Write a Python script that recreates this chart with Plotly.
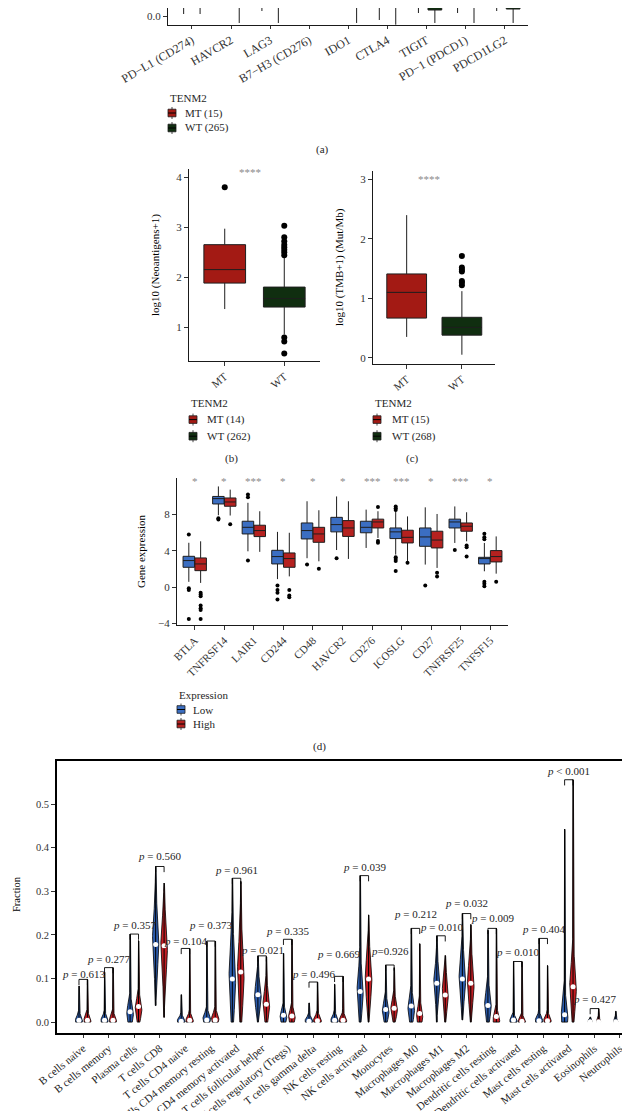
import numpy as np
import plotly.graph_objects as go

W, H = 630, 1111
FONT = "Liberation Serif"
TXT = "#262626"
TICK = "#333333"

# ---------------- (a) checkpoint expression, MT vs WT (top of panel is cropped) -------------
a_genes = ["PD−L1 (CD274)", "HAVCR2", "LAG3", "B7−H3 (CD276)", "IDO1", "CTLA4",
           "TIGIT", "PD−1 (PDCD1)", "PDCD1LG2"]
a_mt_lf = [0.067, 0.45, 0.167, 0.50, 0.42, -0.133, 0.10, 0.10, 0.167]
a_mt_q1 = [1.2, 1.6, 0.9, 2.4, 1.0, 0.8, 0.7, 0.8, 1.1]
a_mt_med = [2.0, 2.5, 1.6, 3.4, 1.8, 1.5, 1.3, 1.5, 1.9]
a_mt_q3 = [2.8, 3.3, 2.3, 4.2, 2.7, 2.2, 2.0, 2.2, 2.6]
a_mt_uf = [4.0, 4.6, 3.5, 5.4, 4.1, 3.4, 3.2, 3.4, 3.8]
a_wt_lf = [0.067, -0.233, -0.233, 0.50, -0.233, -0.29, -0.233, -0.233, -0.233]
a_wt_q1 = [0.8, 1.2, 0.6, 2.2, 0.5, 0.4, 0.20, 0.4, 0.233]
a_wt_med = [1.5, 2.1, 1.2, 3.1, 1.1, 0.9, 0.6, 1.0, 0.8]
a_wt_q3 = [2.3, 2.9, 1.9, 3.9, 1.9, 1.6, 1.2, 1.7, 1.5]
a_wt_uf = [3.6, 4.3, 3.2, 5.2, 3.4, 2.9, 2.4, 3.0, 2.8]

# ---------------- (b) neoantigens ----------------
bc_groups = ["MT", "WT"]
b_lf = [1.36, 0.85]
b_q1 = [1.88, 1.40]
b_med = [2.15, 1.57]
b_q3 = [2.65, 1.80]
b_uf = [2.97, 2.40]
b_out_mt = [3.80]
b_out_wt = [3.03, 2.80, 2.72, 2.65, 2.60, 2.55, 2.50, 2.44, 0.79, 0.71, 0.47]

# ---------------- (c) TMB ----------------
c_lf = [0.35, 0.05]
c_q1 = [0.667, 0.38]
c_med = [1.10, 0.51]
c_q3 = [1.41, 0.68]
c_uf = [2.40, 1.12]
c_out_mt = []
c_out_wt = [1.71, 1.52, 1.48, 1.45, 1.29, 1.26, 1.22]

# ---------------- (d) gene expression Low vs High ----------------
d_genes = ["BTLA", "TNFRSF14", "LAIR1", "CD244", "CD48", "HAVCR2", "CD276", "ICOSLG",
           "CD27", "TNFRSF25", "TNFSF15"]
d_stars = ["*", "*", "***", "*", "*", "*", "***", "***", "*", "***", "*"]
low_lf = [0.6, 7.93, 3.96, 0.9, 3.2, 4.1, 4.33, 3.6, 2.5, 4.88, 1.76]
low_q1 = [2.2, 9.17, 5.87, 2.57, 5.32, 6.1, 6.0, 5.36, 4.51, 6.53, 2.57]
low_med = [2.94, 9.76, 6.6, 3.38, 6.24, 6.9, 6.6, 6.1, 5.54, 7.19, 3.16]
low_q3 = [3.41, 10.0, 7.27, 4.07, 7.08, 7.7, 7.27, 6.53, 6.53, 7.5, 3.3]
low_uf = [4.9, 11.1, 9.3, 6.1, 9.47, 10.0, 8.55, 8.37, 8.8, 8.9, 4.88]
low_out = [[5.8, -0.1, -0.3, -3.5], [7.6, 7.45], [10.2, 9.9, 2.95], [0.2, -0.3, -0.6, -1.35],
           [2.5], [3.2], [], [8.9, 8.7, 8.5, 3.3, 3.1, 2.9, 1.8], [0.2], [4.1],
           [5.9, 5.5, 5.3, 0.6, 0.4, 0.1]]
high_lf = [0.48, 7.9, 3.9, 1.2, 2.86, 3.12, 5.43, 2.86, 2.13, 5.06, 1.5]
high_q1 = [1.83, 8.92, 5.58, 2.2, 4.95, 5.6, 6.53, 4.88, 4.33, 6.17, 2.79]
high_med = [2.57, 9.39, 6.24, 3.16, 5.87, 6.53, 7.19, 5.5, 5.2, 6.72, 3.38]
high_q3 = [3.23, 9.83, 6.83, 3.78, 6.6, 7.34, 7.5, 6.28, 6.17, 7.08, 4.04]
high_uf = [5.06, 10.75, 8.37, 6.0, 8.48, 9.47, 8.37, 7.8, 8.07, 8.26, 5.6]
high_out = [[-0.6, -0.8, -1.0, -2.0, -2.3, -2.5, -3.5], [6.95], [], [-0.3, -0.9, -1.1],
            [2.05], [], [8.85, 5.1, 4.9], [2.7], [1.6, 1.2], [4.6, 4.4, 3.4], [0.6]]

# ---------------- (e) immune cell fractions (violins) ----------------
cells = ["B cells naive", "B cells memory", "Plasma cells", "T cells CD8", "T cells CD4 naive",
         "T cells CD4 memory resting", "T cells CD4 memory activated",
         "T cells follicular helper", "T cells regulatory (Tregs)", "T cells gamma delta",
         "NK cells resting", "NK cells activated", "Monocytes", "Macrophages M0",
         "Macrophages M1", "Macrophages M2", "Dendritic cells resting",
         "Dendritic cells activated", "Mast cells resting", "Mast cells activated",
         "Eosinophils", "Neutrophils"]
blue_lo = [0, 0, 0, 0.038, 0, 0, 0, 0, 0, 0, 0, 0, 0, 0, 0, 0.005, 0, 0, 0, 0, 0, 0]
blue_hi = [0.083, 0.115, 0.202, 0.357, 0.063, 0.185, 0.330, 0.152, 0.158, 0.044, 0.087,
           0.336, 0.131, 0.215, 0.198, 0.249, 0.211, 0.139, 0.192, 0.443, 0.012, 0.025]
blue_peak = [0.004, 0.004, 0.02, 0.185, 0.003, 0.008, 0.10, 0.06, 0.012, 0.003, 0.004,
             0.07, 0.025, 0.03, 0.09, 0.10, 0.04, 0.003, 0.004, 0.015, 0.002, 0.002]
blue_spread = [0.01, 0.01, 0.022, 0.06, 0.008, 0.012, 0.07, 0.03, 0.015, 0.008, 0.01,
               0.045, 0.02, 0.025, 0.035, 0.045, 0.03, 0.008, 0.01, 0.03, 0.005, 0.005]
blue_dens = [0.14, 0.14, 0.13, 0.125, 0.155, 0.15, 0.13, 0.13, 0.13, 0.155, 0.145,
             0.12, 0.13, 0.13, 0.12, 0.13, 0.13, 0.145, 0.145, 0.13, 0.08, 0.08]
blue_med = [0.004, 0.004, 0.024, 0.178, 0.002, 0.005, 0.099, 0.063, 0.016, 0.002, 0.004,
            0.070, 0.029, 0.037, 0.089, 0.099, 0.038, 0.005, 0.003, 0.017, 0.001, 0.001]
red_lo = [0, 0, 0, 0.011, 0, 0, 0, 0, 0, 0, 0, 0, 0, 0, 0, 0, 0, 0, 0, 0, 0, 0]
red_hi = [0.098, 0.125, 0.187, 0.319, 0.169, 0.186, 0.323, 0.150, 0.190, 0.092, 0.105,
          0.246, 0.125, 0.180, 0.153, 0.224, 0.215, 0.139, 0.130, 0.556, 0.031, 0.004]
red_peak = [0.004, 0.004, 0.03, 0.17, 0.004, 0.008, 0.11, 0.04, 0.012, 0.004, 0.004,
            0.10, 0.03, 0.015, 0.065, 0.09, 0.005, 0.002, 0.004, 0.08, 0.002, 0.001]
red_spread = [0.01, 0.01, 0.022, 0.06, 0.01, 0.012, 0.07, 0.03, 0.015, 0.01, 0.01,
              0.05, 0.02, 0.02, 0.035, 0.045, 0.015, 0.008, 0.01, 0.05, 0.005, 0.003]
red_dens = [0.14, 0.14, 0.13, 0.13, 0.145, 0.145, 0.13, 0.13, 0.13, 0.155, 0.145,
            0.13, 0.13, 0.12, 0.12, 0.13, 0.13, 0.145, 0.145, 0.13, 0.08, 0.05]
red_med = [0.004, 0.004, 0.036, 0.175, 0.004, 0.005, 0.115, 0.041, 0.014, 0.003, 0.004,
           0.099, 0.032, 0.020, 0.062, 0.089, 0.013, 0.002, 0.003, 0.081, 0.001, 0.0]
p_text = ["= 0.613", "= 0.277", "= 0.357", "= 0.560", "= 0.104", "= 0.373", "= 0.961",
          "= 0.021", "= 0.335", "= 0.496", "= 0.669", "= 0.039", "=0.926", "= 0.212",
          "= 0.010", "= 0.032", "= 0.009", "= 0.010", "= 0.404", "< 0.001", "= 0.427"]
p_label_y = [0.110, 0.145, 0.222, 0.380, 0.185, 0.222, 0.350, 0.166, 0.209, 0.110, 0.156,
             0.356, 0.164, 0.248, 0.218, 0.273, 0.239, 0.160, 0.213, 0.576, 0.053]

# ---------------- styling ----------------
MT_COL, WT_COL = "#A31A14", "#102E10"
LOW_COL, HIGH_COL = "#3B6EC2", "#B5211F"
VB_COL, VR_COL = "#2C5CAD", "#C41E24"


def py(p):
    return 1 - p / H


def pxx(p):
    return p / W


fig = go.Figure()


def add_boxes(xs, q1, med, q3, lf, uf, color, width, xa, ya):
    fig.add_trace(go.Box(x=xs, q1=q1, median=med, q3=q3, lowerfence=lf, upperfence=uf,
                         orientation="v", width=width, fillcolor=color,
                         line=dict(color="#1e1e1e", width=1), whiskerwidth=0,
                         boxpoints=False, showlegend=False, hoverinfo="skip",
                         xaxis=xa, yaxis=ya))


def add_outliers(xs, ys, size, xa, ya):
    fig.add_trace(go.Scatter(x=xs, y=ys, mode="markers",
                             marker=dict(color="black", size=size, line=dict(width=0)),
                             showlegend=False, hoverinfo="skip", xaxis=xa, yaxis=ya))


# panel a
ia = list(range(len(a_genes)))
add_boxes([i - 0.21 for i in ia], a_mt_q1, a_mt_med, a_mt_q3, a_mt_lf, a_mt_uf, MT_COL, 0.35, "x", "y")
add_boxes([i + 0.21 for i in ia], a_wt_q1, a_wt_med, a_wt_q3, a_wt_lf, a_wt_uf, WT_COL, 0.35, "x", "y")

# panel b
for k, col in enumerate([MT_COL, WT_COL]):
    add_boxes([k], [b_q1[k]], [b_med[k]], [b_q3[k]], [b_lf[k]], [b_uf[k]], col, 0.7, "x2", "y2")
add_outliers([0] * len(b_out_mt) + [1] * len(b_out_wt), b_out_mt + b_out_wt, 6, "x2", "y2")

# panel c
for k, col in enumerate([MT_COL, WT_COL]):
    add_boxes([k], [c_q1[k]], [c_med[k]], [c_q3[k]], [c_lf[k]], [c_uf[k]], col, 0.72, "x3", "y3")
add_outliers([0] * len(c_out_mt) + [1] * len(c_out_wt), c_out_mt + c_out_wt, 6, "x3", "y3")

# panel d
idd = list(range(len(d_genes)))
add_boxes([i - 0.2 for i in idd], low_q1, low_med, low_q3, low_lf, low_uf, LOW_COL, 0.39, "x4", "y4")
add_boxes([i + 0.2 for i in idd], high_q1, high_med, high_q3, high_lf, high_uf, HIGH_COL, 0.39, "x4", "y4")
ox, oy = [], []
for i in idd:
    for v in low_out[i]:
        ox.append(i - 0.2)
        oy.append(v)
    for v in high_out[i]:
        ox.append(i + 0.2)
        oy.append(v)
add_outliers(ox, oy, 4, "x4", "y4")

# panel e violins
DODGE = 0.165
TIP = 0.013


def violin_outline(c, lo, hi, pk, sd, w):
    ys = np.linspace(lo, hi, 160)
    hw = w * np.exp(-0.5 * ((ys - pk) / sd) ** 2)
    hw = np.maximum(hw, 0.015)
    hw[-1] = 0.0
    xs = np.concatenate([c - hw, (c + hw)[::-1], [c - hw[0]]])
    yy = np.concatenate([ys, ys[::-1], [ys[0]]])
    return xs, yy


line_x, line_y, dot_x, dot_y = [], [], [], []
for i in range(len(cells)):
    for off, lo, hi, pk, sd, w, md, col in [
        (-DODGE, blue_lo[i], blue_hi[i], blue_peak[i], blue_spread[i], blue_dens[i], blue_med[i], VB_COL),
        (DODGE, red_lo[i], red_hi[i], red_peak[i], red_spread[i], red_dens[i], red_med[i], VR_COL),
    ]:
        c = i + off
        if hi - lo < 0.006:
            xs, yy = [c - w * 0.5, c, c + w * 0.5], [lo, hi + 0.003, lo]
            fig.add_trace(go.Scatter(x=xs, y=yy, mode="lines", line=dict(color="black", width=0.9),
                                     showlegend=False, hoverinfo="skip", xaxis="x5", yaxis="y5"))
            continue
        xs, yy = violin_outline(c, lo, hi, pk, sd, w)
        fig.add_trace(go.Scatter(x=xs, y=yy, mode="lines", fill="toself", fillcolor=col,
                                 line=dict(color="black", width=0.8), showlegend=False,
                                 hoverinfo="skip", xaxis="x5", yaxis="y5"))
        line_x += [c, c, None]
        line_y += [lo, hi, None]
        dot_x.append(c)
        dot_y.append(md)

fig.add_trace(go.Scatter(x=line_x, y=line_y, mode="lines", line=dict(color="black", width=1.0),
                         showlegend=False, hoverinfo="skip", xaxis="x5", yaxis="y5"))
fig.add_trace(go.Scatter(x=dot_x, y=dot_y, mode="markers",
                         marker=dict(color="white", size=5, line=dict(width=0)),
                         showlegend=False, hoverinfo="skip", xaxis="x5", yaxis="y5"))

# comparison brackets (at the taller violin's top, short tips)
bx, by = [], []
for i in range(len(p_text)):
    top = max(blue_hi[i], red_hi[i])
    bx += [i - DODGE, i - DODGE, i + DODGE, i + DODGE, None]
    by += [top - TIP, top, top, top - TIP, None]
fig.add_trace(go.Scatter(x=bx, y=by, mode="lines", line=dict(color="black", width=0.9),
                         showlegend=False, hoverinfo="skip", xaxis="x5", yaxis="y5"))

annotations = []
for i, t in enumerate(p_text):
    annotations.append(dict(x=i, y=p_label_y[i], xref="x5", yref="y5", showarrow=False,
                            text="<i>p</i> " + t if not t.startswith("=0") else "<i>p</i>" + t,
                            font=dict(family=FONT, size=11, color=TXT),
                            xanchor="center", yanchor="middle"))

# significance stars
annotations.append(dict(x=0.43, y=4.1, xref="x2", yref="y2", text="****", showarrow=False,
                        font=dict(family=FONT, size=11, color="#8a8a8a")))
annotations.append(dict(x=0.40, y=3.0, xref="x3", yref="y3", text="****", showarrow=False,
                        font=dict(family=FONT, size=11, color="#8a8a8a")))
for i, s in enumerate(d_stars):
    annotations.append(dict(x=i, y=11.7, xref="x4", yref="y4", text=s, showarrow=False,
                            font=dict(family=FONT, size=11, color="#8a8a8a")))


def paper_text(x, y, text, size=11, angle=0, anchor="center", color=TXT):
    annotations.append(dict(x=pxx(x), y=py(y), xref="paper", yref="paper", text=text,
                            showarrow=False, textangle=angle, xanchor=anchor, yanchor="middle",
                            font=dict(family=FONT, size=size, color=color)))


# axis titles
paper_text(147, 257, "log10 (Neoantigens+1)", 11, -90, color="black")
paper_text(332, 259, "log10 (TMB+1) (Mut/Mb)", 11, -90, color="black")
paper_text(133, 543, "Gene expression", 11, -90, color="black")
paper_text(8, 886, "Fraction", 10.5, -90, color="black")

# captions
paper_text(314, 141, "(a)")
paper_text(223, 450, "(b)")
paper_text(404, 450, "(c)")
paper_text(311, 738, "(d)")

# legends (drawn manually)
shapes = []


def legend_key(x0, yc, color):
    s = 3.8
    shapes.append(dict(type="line", xref="paper", yref="paper", x0=pxx(x0 + 4), x1=pxx(x0 + 4),
                       y0=py(yc - 6), y1=py(yc + 6), line=dict(color="#1e1e1e", width=0.8)))
    shapes.append(dict(type="rect", xref="paper", yref="paper", x0=pxx(x0), x1=pxx(x0 + 8),
                       y0=py(yc + s), y1=py(yc - s), fillcolor=color,
                       line=dict(color="#1e1e1e", width=0.8)))
    shapes.append(dict(type="line", xref="paper", yref="paper", x0=pxx(x0), x1=pxx(x0 + 8),
                       y0=py(yc), y1=py(yc), line=dict(color="black", width=1)))


def legend(x0, ytitle, title, items, gap, tx):
    paper_text(x0, ytitle, title, 11, 0, "left")
    for k, (lab, col) in enumerate(items):
        yc = ytitle + gap * (k + 1)
        legend_key(x0, yc, col)
        paper_text(tx, yc, lab, 11, 0, "left")


legend(160, 90, "TENM2", [("MT (15)", MT_COL), ("WT (265)", WT_COL)], 15.0, 174.5)
legend(181, 395, "TENM2", [("MT (14)", MT_COL), ("WT (262)", WT_COL)], 16.6, 197)
legend(365, 395, "TENM2", [("MT (15)", MT_COL), ("WT (268)", WT_COL)], 16.6, 381.7)
legend(169, 687, "Expression", [("Low", LOW_COL), ("High", HIGH_COL)], 14.5, 183)

# axes
base = dict(showline=True, linecolor="#1a1a1a", linewidth=1, ticks="outside", ticklen=4,
            tickcolor=TICK, tickwidth=1, showgrid=False, zeroline=False,
            tickfont=dict(family=FONT, size=11, color=TICK), automargin=False)

fig.update_layout(
    template="none",
    width=W, height=H, margin=dict(l=0, r=0, t=0, b=0),
    paper_bgcolor="white", plot_bgcolor="white",
    showlegend=False,
    xaxis=dict(base, domain=[pxx(160), pxx(520)], anchor="y", range=[-0.61, 8.59],
               tickvals=ia, ticktext=a_genes, tickangle=-30, ticklen=3,
               tickfont=dict(family=FONT, size=12, color=TICK)),
    yaxis=dict(base, domain=[py(17), 1.0], anchor="x", range=[-0.3, 0.267],
               tickvals=[0], ticktext=["0.0"]),
    xaxis2=dict(base, domain=[pxx(181), pxx(312)], anchor="y2", range=[-0.6, 1.6],
                tickvals=[0, 1], ticktext=bc_groups, tickangle=-40),
    yaxis2=dict(base, domain=[py(353), py(161)], anchor="x2", range=[0.319, 4.166],
                tickvals=[1, 2, 3, 4]),
    xaxis3=dict(base, domain=[pxx(365), pxx(487)], anchor="y3", range=[-0.61, 1.6],
                tickvals=[0, 1], ticktext=bc_groups, tickangle=-40),
    yaxis3=dict(base, domain=[py(355.7), py(163)], anchor="x3", range=[-0.101, 3.143],
                tickvals=[0, 1, 2, 3]),
    xaxis4=dict(base, domain=[pxx(169), pxx(500)], anchor="y4", range=[-0.6, 10.6],
                tickvals=idd, ticktext=d_genes, tickangle=-45),
    yaxis4=dict(base, domain=[py(616.7), py(470)], anchor="x4", range=[-4.12, 12.03],
                tickvals=[-4, 0, 4, 8]),
    xaxis5=dict(base, domain=[pxx(49), pxx(626)], anchor="y5", range=[-1.025, 21.55],
                tickvals=list(range(len(cells))), ticktext=cells, tickangle=-39, ticklen=3,
                mirror=True, linecolor="black", linewidth=1.6,
                tickfont=dict(family=FONT, size=11, color=TXT)),
    yaxis5=dict(base, domain=[py(1025), py(753)], anchor="x5", range=[-0.025, 0.599],
                tickvals=[0, 0.1, 0.2, 0.3, 0.4, 0.5], tickformat=".1f",
                mirror=True, linecolor="black", linewidth=1.6,
                tickfont=dict(family=FONT, size=10.5, color=TICK)),
    annotations=annotations,
    shapes=shapes,
)

fig.write_html("out.html")
